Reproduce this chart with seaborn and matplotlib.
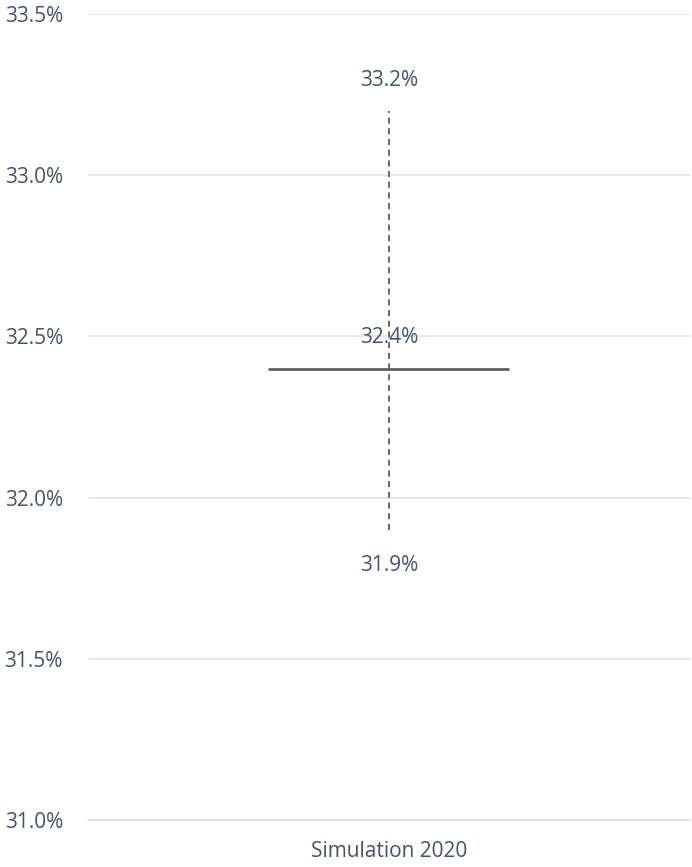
import matplotlib
matplotlib.use("Agg")
import matplotlib.pyplot as plt
import seaborn as sns
import pandas as pd
from matplotlib.ticker import FuncFormatter, FixedLocator

# data
categories = ["Simulation 2020"]
low_vals = [31.9]
median_vals = [32.4]
high_vals = [33.2]
y_ticks = [31.0, 31.5, 32.0, 32.5, 33.0, 33.5]

TEXT = "#44546A"
GRID = "#DDE2EA"
FS = 15

sns.set_theme(style="white")
plt.rcParams["font.family"] = ["Open Sans", "DejaVu Sans"]

fig = plt.figure(figsize=(6.92, 8.67), dpi=100)
ax = fig.add_axes([0.127, 0.0542, 0.870, 0.9297])

rng = pd.DataFrame({
    "x": [0, 0],
    "y": [low_vals[0], high_vals[0]],
})
sns.lineplot(data=rng, x="x", y="y", ax=ax, color="#404040", lw=1.1,
             linestyle=(0, (4, 3)), estimator=None, sort=False)

for i, cat in enumerate(categories):
    ax.hlines(median_vals[i], i - 0.2, i + 0.2, color="#595959", lw=1.9, zorder=3)
    ax.text(i, high_vals[i] + 0.095, f"{high_vals[i]:.1f}%", ha="center", va="center",
            color=TEXT, fontsize=FS)
    ax.text(i, median_vals[i] + 0.095, f"{median_vals[i]:.1f}%", ha="center", va="center",
            color=TEXT, fontsize=FS)
    ax.text(i, low_vals[i] - 0.11, f"{low_vals[i]:.1f}%", ha="center", va="center",
            color=TEXT, fontsize=FS)

ax.set_xlim(-0.5, len(categories) - 0.5)
ax.set_ylim(y_ticks[0], y_ticks[-1])
ax.set_yticks(y_ticks)
ax.yaxis.set_major_formatter(FuncFormatter(lambda v, p: f"{v:.1f}%"))
ax.set_xticks(range(len(categories)))
ax.set_xticklabels(categories)
ax.xaxis.set_minor_locator(FixedLocator([-0.5, len(categories) - 0.5]))

ax.grid(axis="y", color=GRID, lw=1.1)
ax.set_axisbelow(True)
for side in ["top", "right", "left"]:
    ax.spines[side].set_visible(False)
ax.spines["bottom"].set_color(GRID)
ax.spines["bottom"].set_linewidth(1.1)

ax.tick_params(axis="y", length=0, pad=18, labelsize=FS, labelcolor=TEXT)
ax.tick_params(axis="x", which="major", length=0, pad=15, labelsize=FS, labelcolor=TEXT)
ax.tick_params(axis="x", which="minor", length=5, width=1.1, color=GRID)
ax.set_xlabel("")
ax.set_ylabel("")

fig.savefig("out.png", dpi=100)
